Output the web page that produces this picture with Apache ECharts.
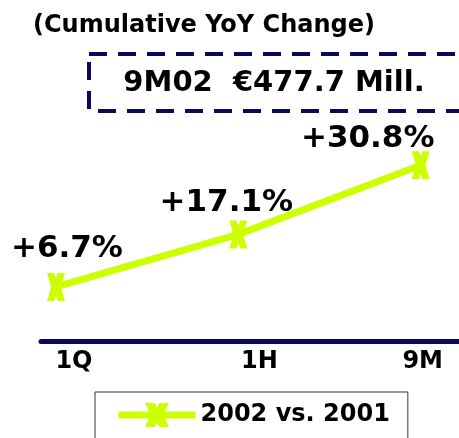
<!DOCTYPE html>
<html>
<head>
<meta charset="utf-8">
<script src="https://cdn.jsdelivr.net/npm/echarts@6/dist/echarts.min.js"></script>
<style>
html, body { margin: 0; padding: 0; background: #fff; }
#container { width: 459px; height: 438px; }
</style>
</head>
<body>
<div id="container"></div>
<script>
// periods on the x axis
var categories = ['1Q', '1H', '9M'];
// cumulative yoy change, %
var yoyValues = [6.7, 17.1, 30.8];
var valueLabels = ['+6.7%', '+17.1%', '+30.8%'];
var seriesName = '2002 vs. 2001';
var titleText = '(Cumulative YoY Change)';
var boxText = '9M02  \u20ac477.7 Mill.';

var lime = '#ccff00';
var navy = '#0a0a5c';
var fontName = 'DejaVu Sans';
// thick X marker, flared at the ends
var xMark = 'path://M0,0 L6,0 L7.5,5 L9,0 L15,0 L11.5,13 L15,26 L9,26 L7.5,21 L6,26 L0,26 L3.5,13 Z';

// label offsets for each point (label sits up-left of the marker)
var labelOffsets = [[11, -38], [-12, -31], [-53, -26]];
// shift of the axis labels (px, to the right)
var tickShift = [36, 42, 4];

var dom = document.getElementById('container');
var myChart = echarts.init(dom);

var seriesData = categories.map(function (c, i) {
    return {
        value: [i, yoyValues[i]],
        label: {
            formatter: valueLabels[i],
            offset: labelOffsets[i]
        }
    };
});

var tickRich = {};
categories.forEach(function (c, i) {
    tickRich['t' + i] = {
        fontFamily: fontName,
        fontWeight: 'bold',
        fontSize: 24,
        color: '#000',
        padding: [0, 0, 0, tickShift[i]]
    };
});

var option = {
    animation: false,
    backgroundColor: '#fff',
    title: {
        text: titleText,
        left: 28,
        top: 9,
        textStyle: { fontFamily: fontName, fontWeight: 'bold', fontSize: 24, color: '#000' }
    },
    graphic: [
        {
            type: 'rect',
            shape: { x: 89, y: 54, width: 420, height: 57 },
            style: { fill: 'none', stroke: navy, lineWidth: 4, lineDash: [18, 11] }
        },
        {
            type: 'text',
            x: 274,
            y: 83,
            style: {
                text: boxText,
                fontFamily: fontName,
                fontWeight: 'bold',
                fontSize: 29,
                fill: '#000',
                align: 'center',
                verticalAlign: 'middle'
            }
        }
    ],
    legend: {
        data: [seriesName],
        left: 95,
        top: 392,
        padding: [11, 18, 22, 20],
        borderColor: '#333',
        borderWidth: 1,
        backgroundColor: '#fff',
        itemWidth: 77,
        itemHeight: 30,
        itemGap: 5,
        lineStyle: { width: 7 },
        textStyle: { fontFamily: fontName, fontWeight: 'bold', fontSize: 24, color: '#000' }
    },
    grid: { left: 41, right: 0, top: 149, bottom: 97 },
    xAxis: {
        type: 'value',
        min: -0.082,
        max: 2.21,
        axisLine: { show: true, onZero: false, lineStyle: { color: navy, width: 5 } },
        axisTick: { show: false },
        splitLine: { show: false },
        axisLabel: {
            customValues: [0, 1, 2],
            margin: 9,
            formatter: function (v) {
                var i = Math.round(v);
                return '{t' + i + '|' + categories[i] + '}';
            },
            rich: tickRich,
            fontFamily: fontName,
            fontWeight: 'bold',
            fontSize: 24,
            color: '#000'
        }
    },
    yAxis: {
        type: 'value',
        min: -4,
        max: 34,
        show: false,
        splitLine: { show: false }
    },
    series: [
        {
            name: seriesName,
            type: 'line',
            data: seriesData,
            symbol: xMark,
            symbolSize: [18, 28],
            lineStyle: { color: lime, width: 7 },
            itemStyle: { color: lime },
            label: {
                show: true,
                position: 'inside',
                fontFamily: fontName,
                fontWeight: 'bold',
                fontSize: 31,
                color: '#000'
            }
        }
    ]
};

if (option && typeof option === 'object') {
    myChart.setOption(option, true);
}
</script>
</body>
</html>
